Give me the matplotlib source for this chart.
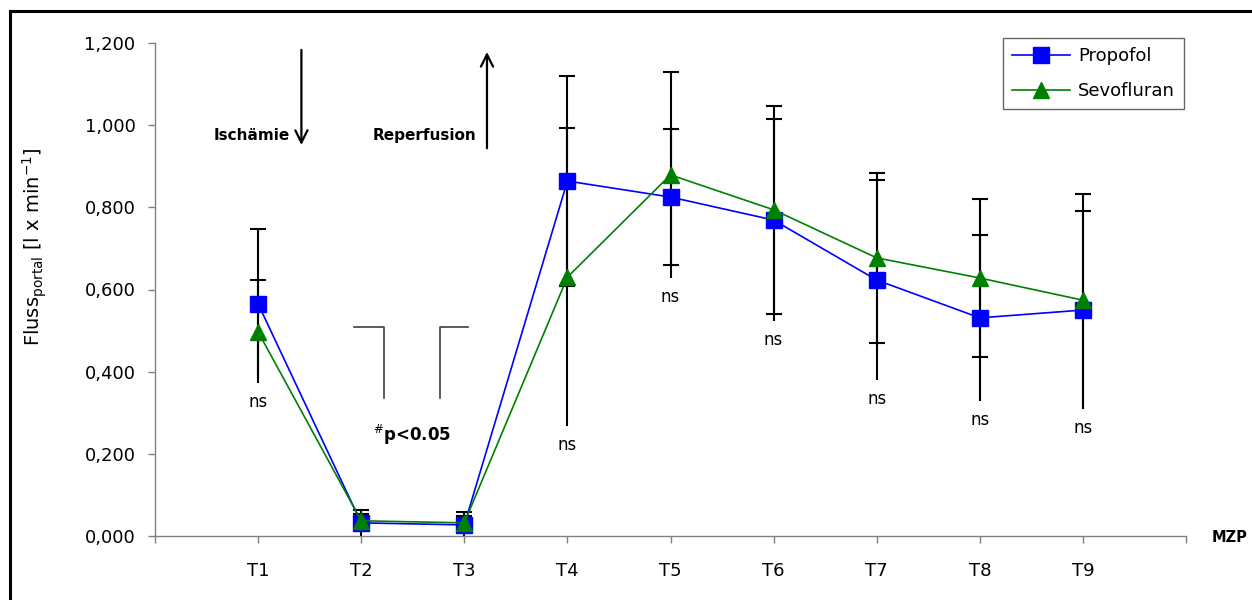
import matplotlib
matplotlib.use("Agg")
import matplotlib.pyplot as plt
from matplotlib.lines import Line2D
from matplotlib.ticker import FuncFormatter, FixedLocator
import numpy as np

plt.rcParams['font.family'] = ['DejaVu Sans']

# Messzeitpunkte
timepoints = ["T1", "T2", "T3", "T4", "T5", "T6", "T7", "T8", "T9"]

# Portaler Fluss [l x min^-1], Mittelwert und Standardabweichung
propofol_mean = [0.565, 0.032, 0.027, 0.864, 0.825, 0.769, 0.623, 0.531, 0.550]
propofol_sd = [0.183, 0.032, 0.032, 0.256, 0.166, 0.246, 0.243, 0.202, 0.241]
sevo_mean = [0.497, 0.037, 0.032, 0.630, 0.879, 0.794, 0.677, 0.628, 0.574]
sevo_sd = [0.125, 0.017, 0.017, 0.362, 0.251, 0.253, 0.207, 0.192, 0.258]

# Signifikanzangaben je Messzeitpunkt
sig_labels = ["ns", "", "", "ns", "ns", "ns", "ns", "ns", "ns"]

yticks = [0.0, 0.2, 0.4, 0.6, 0.8, 1.0, 1.2]

W, H = 1252, 600
fig = plt.figure(figsize=(W / 100, H / 100), dpi=100)
ax = fig.add_axes([155 / W, 1 - 536 / H, (1186 - 155) / W, (536 - 43) / H])

x = np.arange(1, len(timepoints) + 1)
pm, ps = np.array(propofol_mean), np.array(propofol_sd)
sm, ss = np.array(sevo_mean), np.array(sevo_sd)

# Fehlerbalken (schwarz), untere Kappe am tiefsten Ende entfällt
lows = np.minimum(pm - ps, sm - ss)
for m, s in ((pm, ps), (sm, ss)):
    ax.vlines(x, m - s, m + s, colors="black", lw=1.5, zorder=2)
    ax.plot(x, m + s, ls="none", marker="_", ms=12, mew=1.5, color="black", zorder=2)
    keep = (m - s) > lows + 0.012
    ax.plot(x[keep], (m - s)[keep], ls="none", marker="_", ms=12, mew=1.5,
            color="black", zorder=2)

ax.plot(x, pm, color="#0000FF", lw=1.2, marker="s", ms=11, mec="#0000FF",
        mfc="#0000FF", label="Propofol", zorder=3)
ax.plot(x, sm, color="#008000", lw=1.2, marker="^", ms=12, mec="#008000",
        mfc="#008000", label="Sevofluran", zorder=4)

# "ns" unterhalb der Fehlerbalken
for xi, lo, lab in zip(x, lows, sig_labels):
    if lab:
        ax.text(xi, lo - 0.047, lab, ha="center", va="center", fontsize=12)

ax.set_xlim(0, 10)
ax.set_ylim(0, 1.2)
ax.xaxis.set_major_locator(FixedLocator(np.arange(0, 11)))
ax.set_xticklabels([""] + timepoints + [""])
ax.yaxis.set_major_locator(FixedLocator(yticks))
ax.yaxis.set_major_formatter(FuncFormatter(lambda v, p: f"{v:.3f}".replace(".", ",")))
ax.tick_params(axis="both", direction="out", length=5, width=1, color="#808080",
               labelsize=13, pad=9)
ax.tick_params(axis="x", pad=14)
for side in ("top", "right"):
    ax.spines[side].set_visible(False)
for side in ("left", "bottom"):
    ax.spines[side].set_color("#808080")
    ax.spines[side].set_linewidth(1)

ax.set_ylabel(r"Fluss$_{\mathregular{portal}}$ [l x min$^{\mathregular{-1}}$]",
              fontsize=14)
ax.yaxis.set_label_coords(-0.103, 0.588)

fig.text(1212 / W, 1 - 537 / H, "MZP", fontsize=10.5, fontweight="bold",
         ha="left", va="center")

# Ischämie / Reperfusion
ax.annotate("", xy=(1.42, 0.945), xytext=(1.42, 1.19),
            arrowprops=dict(arrowstyle="->", lw=1.6, color="black",
                            mutation_scale=22))
ax.text(1.31, 0.974, "Ischämie", fontsize=11, fontweight="bold",
        ha="right", va="center")
ax.annotate("", xy=(3.22, 1.185), xytext=(3.22, 0.937),
            arrowprops=dict(arrowstyle="->", lw=1.6, color="black",
                            mutation_scale=22))
ax.text(3.12, 0.974, "Reperfusion", fontsize=11, fontweight="bold",
        ha="right", va="center")

# Klammern für den Vergleich T2/T3
bc = "#404040"
ax.plot([1.93, 2.22, 2.22], [0.508, 0.508, 0.335], color=bc, lw=1.2)
ax.plot([2.76, 2.76, 3.04], [0.335, 0.508, 0.508], color=bc, lw=1.2)
ax.text(2.49, 0.245, r"$^{\#}$p<0.05", fontsize=12, fontweight="bold",
        ha="center", va="center")

leg = ax.legend(loc="upper left", bbox_to_anchor=((1003 - 155) / (1186 - 155), 1.01),
                frameon=True, fancybox=False, edgecolor="#404040", fontsize=13,
                handlelength=3.2, handletextpad=0.45, borderpad=0.5,
                labelspacing=0.95, borderaxespad=0)
leg.get_frame().set_linewidth(1)

# Rahmen um die Abbildung
fig.add_artist(Line2D([10 / W, 10 / W], [0, 1 - 11 / H], color="black", lw=2.2,
                      transform=fig.transFigure))
fig.add_artist(Line2D([10 / W, 1], [1 - 11 / H, 1 - 11 / H], color="black", lw=2.2,
                      transform=fig.transFigure))

fig.savefig("out.png", dpi=100)
